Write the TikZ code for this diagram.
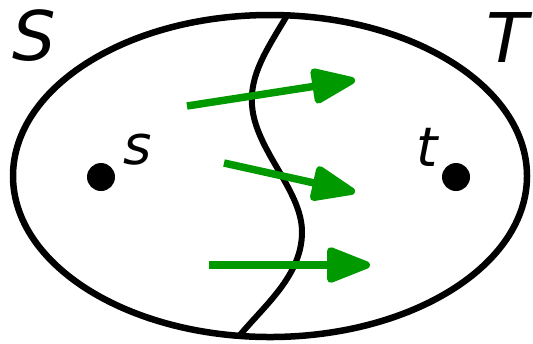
\documentclass[tikz,border=0pt]{standalone}
\usepackage{fontspec}
\setmainfont{DejaVu Sans}
\usepackage{tikz}
\usetikzlibrary{arrows.meta}
\usepackage{xcolor}

\definecolor{cutgreen}{RGB}{0,153,0}

\tikzset{
    dot/.style = {circle, fill = black, inner sep = 0pt, minimum size = 0.56cm},
    setname/.style = {font = \fontsize{39}{39}\selectfont\itshape},
    ptname/.style = {font = \fontsize{31}{31}\selectfont\itshape},
    cutedge/.style = {cutgreen, line width = 0.15cm,
        -{Triangle[length = 1.0cm, width = 0.74cm, round]}}
}

\begin{document}
\begin{tikzpicture}[x = 0.02cm, y = -0.02cm]
        \useasboundingbox (0,0) rectangle (533,343);

        \draw[line width = 0.13cm] (270,176) ellipse [x radius = 257, y radius = 161];

        % the cut
        \coordinate (ctop) at (288,14);
        \coordinate (cbot) at (240,335);
        \draw[line width = 0.12cm] (ctop) .. controls (265,52) and (250,75) .. (252,105)
            .. controls (255,150) and (302,190) .. (302,232)
            .. controls (302,275) and (265,305) .. (cbot);

        \node[dot] (s) at (101,177) {};
        \node[dot] (t) at (456,177) {};
        \node[ptname] (slabel) at (138,150) {s};
        \node[ptname] (tlabel) at (427,147) {t};

        \node[setname] (Slabel) at (34,36) {S};
        \node[setname] (Tlabel) at (507,38) {T};

        % edges crossing the cut
        \coordinate (a1) at (187,106);
        \coordinate (b1) at (355,80);
        \coordinate (a2) at (224,163);
        \coordinate (b2) at (355,192);
        \coordinate (a3) at (209,265);
        \coordinate (b3) at (370,265);
        \draw[cutedge] (a1) -- (b1);
        \draw[cutedge] (a2) -- (b2);
        \draw[cutedge] (a3) -- (b3);
    \end{tikzpicture}
\end{document}
